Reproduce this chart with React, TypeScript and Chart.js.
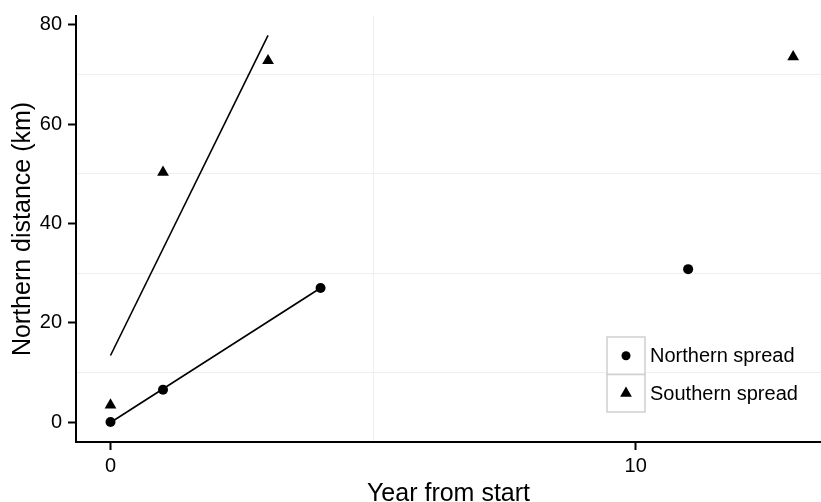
import React, { useEffect, useRef } from "react";
import { Chart, registerables } from "chart.js";

Chart.register(...registerables);

// Data
const northX = [0, 1, 4, 11];
const northY = [0, 6.5, 27, 30.8];
const southX = [0, 1, 3, 13];
const southY = [3.4, 50.3, 72.8, 73.6];

// Fitted lines (end points)
const northFitX = [0, 4];
const northFitY = [-0.1, 27];
const southFitX = [0, 3];
const southFitY = [13.4, 77.9];

const xTicks = [0, 5, 10];
const xLabelled = [0, 10];
const yTicks = [0, 10, 20, 30, 40, 50, 60, 70, 80];
const yLabelled = [0, 20, 40, 60, 80];

const seriesNames = ["Northern spread", "Southern spread"];

const FONT = "'Liberation Sans', Arial, sans-serif";
const GRID = "#eeeeee";

const toPts = (xs: number[], ys: number[]) => xs.map((x, i) => ({ x, y: ys[i] }));

const legendPlugin = {
  id: "boxLegend",
  afterDraw(chart: any) {
    const ctx = chart.ctx;
    const left = 607;
    const top = 337;
    const w = 38;
    const h = 37.5;
    ctx.save();
    seriesNames.forEach((name, i) => {
      const y0 = top + i * h;
      ctx.fillStyle = "#ffffff";
      ctx.fillRect(left, y0, w, h);
      ctx.strokeStyle = "#cfcfcf";
      ctx.lineWidth = 1.5;
      ctx.strokeRect(left, y0, w, h);
      const cx = left + w / 2;
      const cy = y0 + h / 2;
      ctx.fillStyle = "#000";
      ctx.beginPath();
      if (i === 0) {
        ctx.arc(cx, cy, 4.5, 0, Math.PI * 2);
      } else {
        const r = 6.8;
        ctx.moveTo(cx, cy - r);
        ctx.lineTo(cx + r * Math.sin(Math.PI * 2 / 3), cy - r * Math.cos(Math.PI * 2 / 3));
        ctx.lineTo(cx + r * Math.sin(Math.PI * 4 / 3), cy - r * Math.cos(Math.PI * 4 / 3));
        ctx.closePath();
      }
      ctx.fill();
      ctx.fillStyle = "#000";
      ctx.font = `20px ${FONT}`;
      ctx.textAlign = "left";
      ctx.textBaseline = "middle";
      ctx.fillText(name, 650, cy + 1);
    });
    ctx.restore();
  },
};

export default function App() {
  const ref = useRef<HTMLCanvasElement | null>(null);

  useEffect(() => {
    document.body.style.margin = "0";
    if (!ref.current) return;
    const chart = new Chart(ref.current, {
      type: "scatter",
      data: {
        datasets: [
          {
            label: "northFit",
            data: toPts(northFitX, northFitY),
            showLine: true,
            borderColor: "#000",
            borderWidth: 1.6,
            pointRadius: 0,
            order: 3,
          },
          {
            label: "southFit",
            data: toPts(southFitX, southFitY),
            showLine: true,
            borderColor: "#000",
            borderWidth: 1.6,
            pointRadius: 0,
            order: 4,
          },
          {
            label: seriesNames[0],
            data: toPts(northX, northY),
            pointStyle: "circle",
            pointRadius: 5,
            backgroundColor: "#000",
            borderColor: "#000",
            borderWidth: 0,
            order: 1,
          },
          {
            label: seriesNames[1],
            data: toPts(southX, southY),
            pointStyle: "triangle",
            pointRadius: 6.8,
            backgroundColor: "#000",
            borderColor: "#000",
            borderWidth: 0,
            order: 2,
          },
        ],
      },
      options: {
        responsive: false,
        animation: false,
        events: [],
        layout: { autoPadding: false, padding: { top: 16, left: 0, right: 0, bottom: 0 } },
        plugins: {
          legend: { display: false },
          tooltip: { enabled: false },
        },
        scales: {
          x: {
            type: "linear",
            min: -0.657,
            max: 13.53,
            afterBuildTicks: (scale: any) => {
              scale.ticks = xTicks.map((v) => ({ value: v }));
            },
            afterFit: (scale: any) => {
              scale.height = 60;
              scale.paddingLeft = 0;
              scale.paddingRight = 0;
            },
            ticks: {
              color: "#000",
              font: { family: FONT, size: 20 },
              padding: 4,
              maxRotation: 0,
              autoSkip: false,
              callback: (v: any) => (xLabelled.includes(Number(v)) ? String(v) : ""),
            },
            grid: {
              color: (c: any) => (c.tick && xLabelled.includes(c.tick.value) ? "rgba(0,0,0,0)" : GRID),
              tickColor: (c: any) => (c.tick && xLabelled.includes(c.tick.value) ? "#000" : "rgba(0,0,0,0)"),
              lineWidth: 1,
              tickWidth: 2,
              tickLength: 8,
              drawTicks: true,
            },
            border: { display: true, color: "#000", width: 2 },
            title: {
              display: true,
              text: "Year from start",
              color: "#000",
              font: { family: FONT, size: 25, lineHeight: 1.2 },
              padding: { top: 0, bottom: -7 },
            },
          },
          y: {
            type: "linear",
            min: -4.03,
            max: 81.81,
            afterBuildTicks: (scale: any) => {
              scale.ticks = yTicks.map((v) => ({ value: v }));
            },
            afterFit: (scale: any) => {
              scale.width = 76;
              scale.paddingTop = 0;
              scale.paddingBottom = 0;
            },
            ticks: {
              color: "#000",
              font: { family: FONT, size: 20 },
              padding: 6,
              autoSkip: false,
              callback: (v: any) => (yLabelled.includes(Number(v)) ? String(v) : ""),
            },
            grid: {
              color: (c: any) => (c.tick && yLabelled.includes(c.tick.value) ? "rgba(0,0,0,0)" : GRID),
              tickColor: (c: any) => (c.tick && yLabelled.includes(c.tick.value) ? "#000" : "rgba(0,0,0,0)"),
              lineWidth: 1,
              tickWidth: 2,
              tickLength: 8,
              drawTicks: true,
            },
            border: { display: true, color: "#000", width: 2 },
            title: {
              display: true,
              text: "Northern distance (km)",
              color: "#000",
              font: { family: FONT, size: 25, lineHeight: 1.2 },
              padding: { top: 8, bottom: 0 },
            },
          },
        },
      },
      plugins: [legendPlugin],
    } as any);
    return () => chart.destroy();
  }, []);

  return (
    <div style={{ width: 821, height: 502, position: "relative", background: "#fff" }}>
      <canvas ref={ref} width={821} height={502} style={{ display: "block" }} />
    </div>
  );
}
